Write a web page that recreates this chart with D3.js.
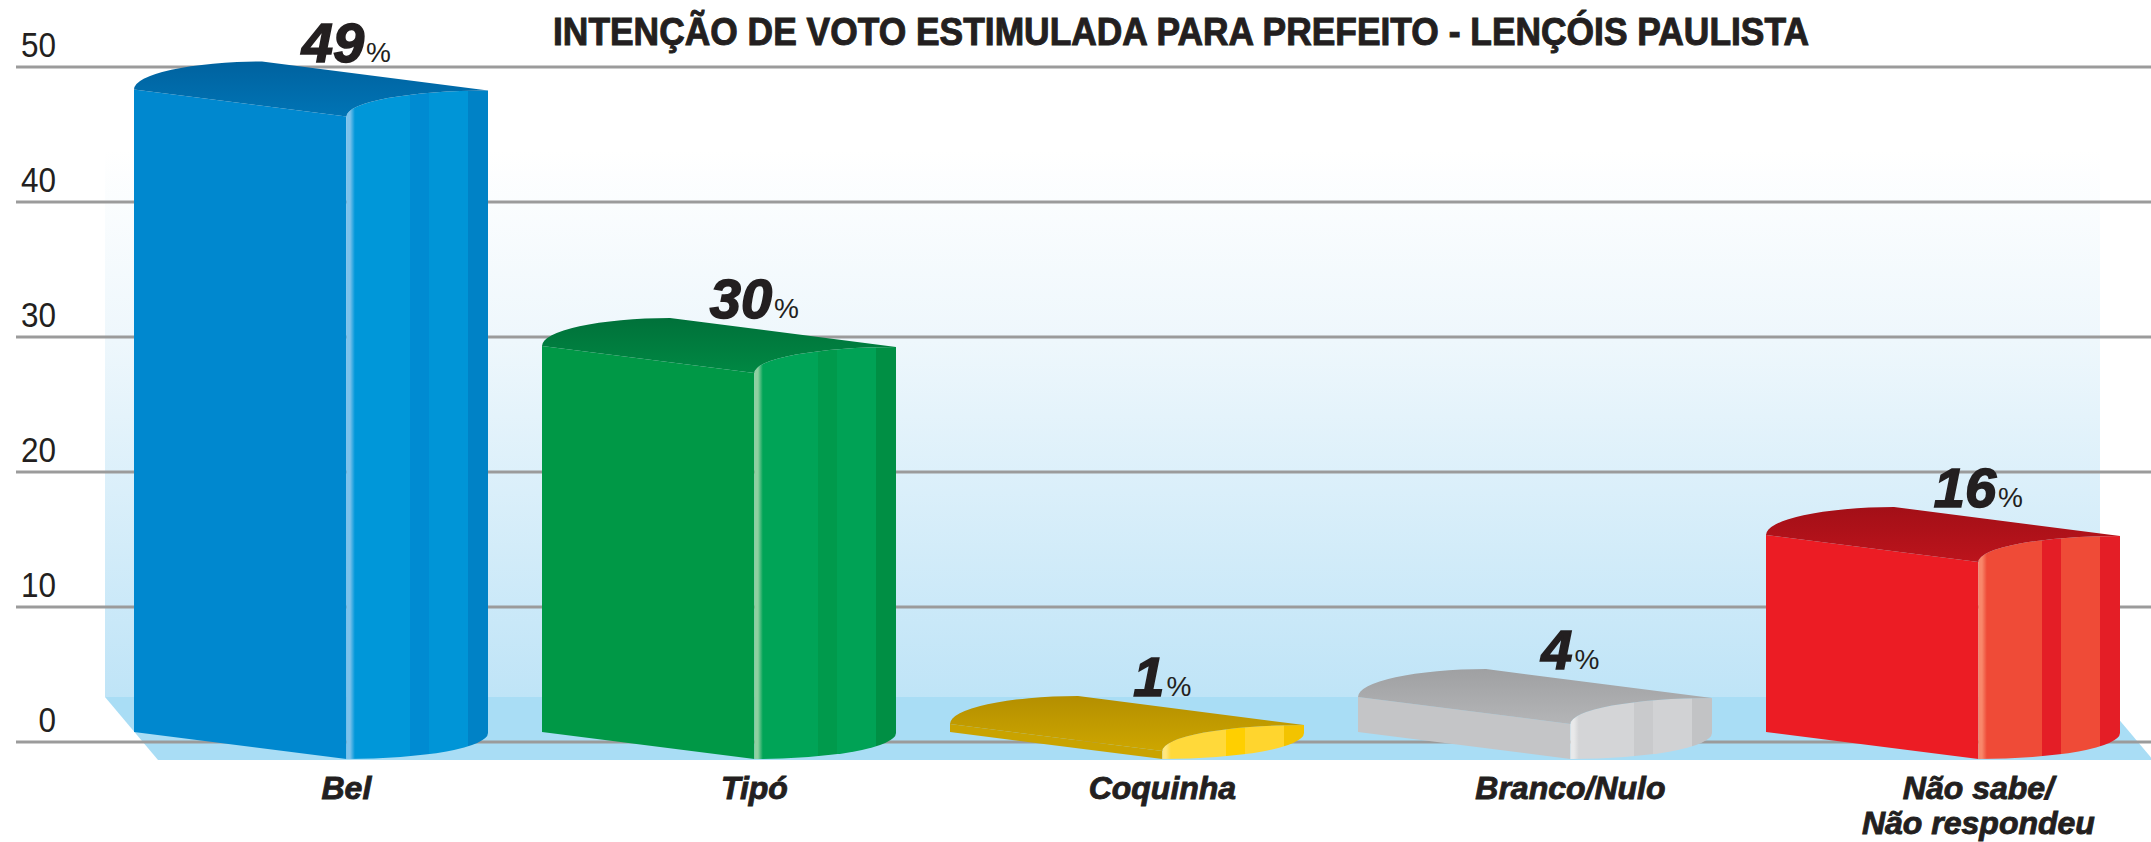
<!DOCTYPE html>
<html><head><meta charset="utf-8">
<script src="https://cdn.jsdelivr.net/npm/d3@7"></script>
<style>html,body{margin:0;padding:0;background:#fff;overflow:hidden}</style>
</head><body>
<svg id="chart" width="2151" height="842"></svg>
<script>
// ---------- data ----------
const title = "INTENÇÃO DE VOTO ESTIMULADA PARA PREFEITO - LENÇÓIS PAULISTA";
const categories = ["Bel", "Tipó", "Coquinha", "Branco/Nulo", "Não sabe/Não respondeu"];
const labelLines = [["Bel"], ["Tipó"], ["Coquinha"], ["Branco/Nulo"], ["Não sabe/", "Não respondeu"]];
const values = [49, 30, 1, 4, 16];
const yTicks = [0, 10, 20, 30, 40, 50];

// ---------- colours ----------
const frontColors = ["#0088cf", "#009846", "#c9a300", "#c4c5c7", "#ec1c24"];
const topColors = [["#00629f", "#0074b5"], ["#00713a", "#008843"], ["#b48f00", "#cda600"], ["#9fa0a2", "#b4b5b7"], ["#a30f17", "#bc141c"]];
// highlight, base, band, base2, edge
const sideColors = [
  ["#7cc2ec", "#0097d9", "#008bd2", "#0095d7", "#0082c6"],
  ["#8fd0a0", "#00a457", "#009a4c", "#00a255", "#008f44"],
  ["#ffe77f", "#ffd93a", "#ffcf00", "#ffd52e", "#f3c300"],
  ["#e8e9ea", "#d4d5d7", "#c9cacc", "#d1d2d4", "#c2c3c5"],
  ["#f8876a", "#ef4b37", "#e41e26", "#ef4b37", "#e41e26"]
];
const textColor = "#231f20";
const FONT = "'Liberation Sans', Arial, Helvetica, sans-serif";

// ---------- setup ----------
const svg = d3.select("#chart");
const defs = svg.append("defs");

const y = d3.scaleLinear().domain([0, 50]).range([742, 67]);
const x = d3.scaleBand().domain(categories).range([134, 2120]).paddingInner(54 / 408).paddingOuter(0);

const W = x.bandwidth() * 0.6;      // front face width
const S = x.bandwidth() - W;        // curved side width
const drop = 27;                    // perspective drop of the front edge
const depthX = 128, depthY = 28;    // top-face depth
const baseY = y(0) - 10;            // front-left bottom corner
const minH = 8;

// backdrop panel
const bg = defs.append("linearGradient").attr("id", "bgGrad")
  .attr("gradientUnits", "userSpaceOnUse").attr("x1", 0).attr("x2", 0).attr("y1", 150).attr("y2", y(0) - 45);
bg.append("stop").attr("offset", 0).attr("stop-color", "#ffffff");
bg.append("stop").attr("offset", 0.35).attr("stop-color", "#eef7fc");
bg.append("stop").attr("offset", 1).attr("stop-color", "#bfe4f7");

svg.append("rect").attr("x", 105).attr("y", 120).attr("width", 1995).attr("height", y(0) - 45 - 120)
  .attr("fill", "url(#bgGrad)");

// floor
const fTop = y(0) - 45, fBot = y(0) + 18;
svg.append("path")
  .attr("d", `M105,${fTop}L2100,${fTop}L2153,${fBot}L158,${fBot}Z`)
  .attr("fill", "#a9ddf5");

// gridlines
svg.append("g").selectAll("line").data(yTicks).join("line")
  .attr("x1", 16).attr("x2", 2151)
  .attr("y1", d => y(d)).attr("y2", d => y(d))
  .attr("stroke", "#9b9b9b").attr("stroke-width", 3);

// tick labels
svg.append("g").selectAll("text").data(yTicks).join("text")
  .attr("transform", d => `translate(56,${y(d) - 10}) scale(0.9,1)`)
  .attr("text-anchor", "end")
  .attr("font-family", FONT).attr("font-size", 35).attr("fill", textColor)
  .text(d => d);

// gradients for bars
values.forEach((v, i) => {
  const tg = defs.append("linearGradient").attr("id", "top" + i).attr("x1", 0).attr("x2", 0).attr("y1", 0).attr("y2", 1);
  tg.append("stop").attr("offset", 0).attr("stop-color", topColors[i][0]);
  tg.append("stop").attr("offset", 1).attr("stop-color", topColors[i][1]);
  const c = sideColors[i];
  const sg = defs.append("linearGradient").attr("id", "side" + i).attr("x1", 0).attr("x2", 1).attr("y1", 0).attr("y2", 0);
  [[0, c[0]], [0.025, c[0]], [0.06, c[1]], [0.45, c[1]], [0.45, c[2]], [0.58, c[2]], [0.58, c[3]], [0.86, c[3]], [0.86, c[4]], [1, c[4]]]
    .forEach(([o, col]) => sg.append("stop").attr("offset", o).attr("stop-color", col));
});

// bars
const bars = svg.append("g").selectAll("g").data(values).join("g");
bars.each(function (v, i) {
  const g = d3.select(this);
  const L = x(categories[i]);
  const T = Math.min(y(v) + 9, baseY - minH);
  const B = baseY;
  const front = `M${L},${T}L${L + W},${T + drop}L${L + W},${B + drop}L${L},${B}Z`;
  const side = `M${L + W},${T + drop}A${S},${drop - 1} 0 0 1 ${L + W + S},${T + 1}L${L + W + S},${B + 1}A${S},${drop - 1} 0 0 1 ${L + W},${B + drop}Z`;
  const top = `M${L},${T}L${L + W},${T + drop}A${S},${drop - 1} 0 0 1 ${L + W + S},${T + 1}L${L + depthX},${T - depthY}A${depthX},${depthY} 0 0 0 ${L},${T}Z`;
  g.append("path").attr("d", front).attr("fill", frontColors[i]);
  g.append("path").attr("d", side).attr("fill", `url(#side${i})`);
  g.append("path").attr("d", top).attr("fill", `url(#top${i})`);

  // value label
  const t = g.append("text")
    .attr("x", L + W).attr("y", T - depthY)
    .attr("text-anchor", "middle").attr("font-family", FONT).attr("fill", textColor);
  t.append("tspan").attr("font-size", 56).attr("font-weight", "bold").attr("font-style", "italic")
    .attr("stroke", textColor).attr("stroke-width", 1.6).text(v);
  t.append("tspan").attr("font-size", 28).attr("dx", 2).text("%");

  // category label
  const cl = g.append("text")
    .attr("x", L + W).attr("y", 799)
    .attr("text-anchor", "middle").attr("font-family", FONT)
    .attr("font-size", 32).attr("font-weight", "bold").attr("font-style", "italic")
    .attr("fill", textColor).attr("stroke", textColor).attr("stroke-width", 0.9);
  labelLines[i].forEach((ln, k) => {
    cl.append("tspan").attr("x", L + W).attr("dy", k === 0 ? 0 : 35).text(ln);
  });
});

// title
svg.append("text")
  .attr("x", 553).attr("y", 45)
  .attr("font-family", FONT)
  .attr("font-size", 38).attr("font-weight", "bold").attr("fill", textColor)
  .attr("stroke", textColor).attr("stroke-width", 1)
  .attr("textLength", 1256).attr("lengthAdjust", "spacingAndGlyphs")
  .text(title);
</script>
</body></html>
